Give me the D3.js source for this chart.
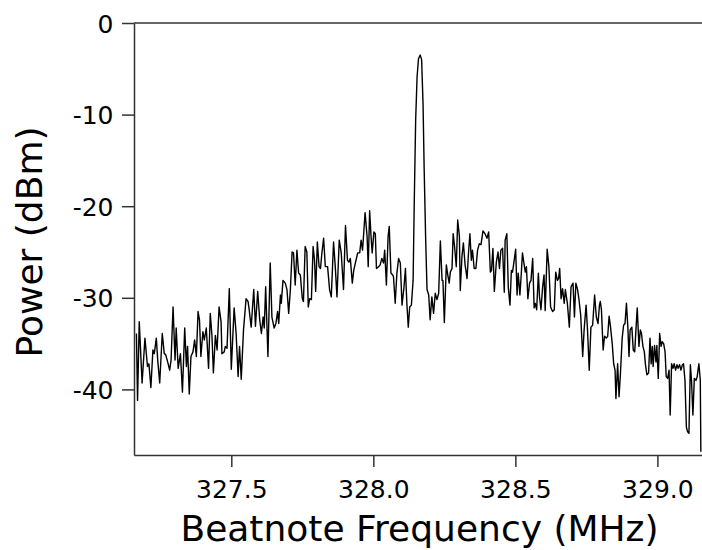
<!DOCTYPE html>
<html>
<head>
<meta charset="utf-8">
<title>Beatnote spectrum</title>
<style>
  body { margin: 0; background: #fff; }
  text { font-family: "DejaVu Sans", sans-serif; fill: #000; }
  .line { fill: none; stroke: #000; stroke-width: 1.4; stroke-linejoin: round; }
  .axis path, .axis line { stroke: #333; stroke-width: 1.5; }
</style>
<script src="https://d3js.org/d3.v7.min.js"></script>
</head>
<body>
<div id="chart"></div>
<script>
// beatnote frequency (MHz)
var freq = [
  327.166,327.170,327.176,327.186,327.196,327.205,327.210,327.217,327.224,327.229,
  327.236,327.241,327.248,327.257,327.264,327.269,327.276,327.283,327.288,327.295,
  327.302,327.306,327.313,327.321,327.328,327.336,327.342,327.346,327.352,327.358,
  327.365,327.371,327.377,327.383,327.388,327.393,327.400,327.405,327.412,327.420,
  327.426,327.432,327.437,327.444,327.450,327.457,327.464,327.467,327.475,327.479,
  327.485,327.493,327.500,327.510,327.517,327.524,327.529,327.535,327.543,327.552,
  327.559,327.563,327.570,327.579,327.585,327.593,327.600,327.606,327.612,327.616,
  327.621,327.629,327.637,327.643,327.651,327.657,327.663,327.667,327.673,327.676,
  327.682,327.690,327.696,327.702,327.708,327.714,327.719,327.725,327.731,327.737,
  327.743,327.750,327.754,327.760,327.766,327.771,327.776,327.782,327.788,327.793,
  327.797,327.803,327.809,327.814,327.819,327.825,327.831,327.839,327.846,327.852,
  327.860,327.866,327.872,327.880,327.887,327.895,327.902,327.909,327.914,327.919,
  327.926,327.931,327.939,327.945,327.952,327.957,327.962,327.966,327.971,327.978,
  327.982,327.987,327.992,327.996,328.002,328.007,328.011,328.019,328.024,328.030,
  328.036,328.040,328.046,328.052,328.056,328.062,328.068,328.071,328.077,328.083,
  328.089,328.095,328.101,328.108,328.113,328.118,328.123,328.128,328.134,328.140,
  328.144,328.149,328.154,328.159,328.165,328.170,328.175,328.179,328.184,328.189,
  328.195,328.200,328.206,328.212,328.218,328.224,328.230,328.236,328.242,328.245,
  328.250,328.257,328.261,328.267,328.271,328.277,328.281,328.286,328.292,328.297,
  328.303,328.306,328.312,328.317,328.323,328.330,328.335,328.340,328.345,328.349,
  328.355,328.361,328.367,328.373,328.379,328.386,328.393,328.400,328.406,328.412,
  328.416,328.421,328.426,328.433,328.439,328.444,328.449,328.455,328.461,328.464,
  328.470,328.475,328.481,328.486,328.490,328.495,328.501,328.506,328.510,328.516,
  328.521,328.525,328.530,328.535,328.539,328.544,328.550,328.555,328.561,328.566,
  328.570,328.575,328.581,328.585,328.590,328.596,328.601,328.605,328.612,328.618,
  328.624,328.631,328.637,328.642,328.648,328.652,328.656,328.661,328.666,328.672,
  328.676,328.683,328.690,328.696,328.703,328.708,328.713,328.719,328.724,328.730,
  328.737,328.742,328.749,328.754,328.760,328.766,328.772,328.779,328.785,328.791,
  328.796,328.799,328.803,328.809,328.814,328.820,328.825,328.830,328.835,328.841,
  328.846,328.851,328.854,328.860,328.865,328.870,328.876,328.881,328.886,328.891,
  328.896,328.900,328.904,328.910,328.915,328.920,328.925,328.929,328.935,328.940,
  328.944,328.949,328.954,328.958,328.963,328.969,328.974,328.978,328.982,328.985,
  328.990,328.995,328.998,329.003,329.008,329.013,329.017,329.022,329.027,329.031,
  329.036,329.041,329.045,329.050,329.055,329.059,329.064,329.069,329.073,329.078,
  329.083,329.088,329.092,329.097,329.102,329.106,329.111,329.116,329.120,329.125,
  329.130,329.136,329.140,329.146,329.151,329.153
];

// power (dBm)
var power = [
  -33.9,-41.2,-32.6,-39.3,-34.4,-37.5,-37.2,-39.8,-35.7,-36.1,
  -34.4,-36.8,-39.3,-33.9,-36.1,-36.2,-37.0,-37.9,-36.8,-31.0,
  -36.8,-33.3,-37.7,-36.1,-40.3,-33.3,-37.5,-35.3,-40.5,-36.4,
  -35.9,-34.6,-36.4,-31.5,-32.4,-36.4,-33.7,-34.6,-33.3,-37.7,
  -31.7,-34.2,-38.2,-34.1,-35.7,-31.0,-32.6,-36.1,-35.9,-35.3,
  -35.5,-29.0,-37.8,-31.1,-33.9,-38.6,-35.3,-38.9,-33.5,-30.1,
  -30.4,-31.3,-33.2,-29.1,-33.1,-29.3,-32.4,-33.9,-32.1,-33.3,
  -28.8,-36.4,-26.2,-32.1,-33.3,-32.8,-31.5,-32.8,-29.7,-30.6,
  -28.1,-28.4,-29.1,-31.7,-29.1,-25.0,-25.1,-28.6,-24.8,-27.3,
  -27.5,-30.1,-30.4,-24.4,-25.0,-31.0,-30.1,-30.2,-24.4,-25.9,
  -29.3,-23.9,-26.6,-26.8,-25.1,-23.5,-26.6,-26.6,-29.1,-29.9,
  -23.9,-26.6,-29.9,-23.7,-25.1,-29.1,-22.1,-25.9,-26.1,-25.7,
  -28.4,-27.0,-25.9,-25.1,-25.1,-23.7,-24.8,-23.0,-20.7,-23.3,
  -26.6,-20.5,-23.3,-25.1,-22.8,-23.0,-26.8,-26.6,-26.4,-25.7,
  -26.2,-24.8,-28.6,-23.3,-22.2,-27.3,-27.5,-27.7,-30.6,-27.3,
  -25.7,-26.2,-30.8,-28.8,-26.8,-30.6,-33.2,-31.0,-30.8,-28.1,
  -19.7,-10.6,-5.9,-3.9,-3.5,-4.0,-8.8,-16.0,-23.3,-29.1,
  -29.7,-32.4,-29.9,-31.7,-29.5,-30.2,-29.5,-23.8,-28.1,-28.1,
  -32.7,-26.4,-27.3,-28.4,-27.2,-26.8,-23.0,-24.4,-26.6,-21.5,
  -23.3,-29.2,-25.5,-24.0,-26.4,-27.9,-25.1,-23.0,-25.9,-24.8,
  -26.8,-26.8,-24.8,-24.1,-24.2,-22.7,-23.0,-23.5,-22.8,-27.2,
  -27.0,-24.6,-29.3,-26.1,-25.0,-26.8,-24.8,-24.6,-29.4,-23.7,
  -23.0,-28.8,-30.8,-27.0,-27.2,-26.1,-24.7,-29.7,-27.3,-29.7,
  -27.3,-25.1,-26.2,-27.2,-26.6,-30.1,-28.4,-28.1,-25.7,-31.1,
  -30.6,-31.3,-27.3,-29.9,-31.3,-28.8,-27.5,-31.4,-24.7,-26.6,
  -31.0,-31.5,-31.3,-27.2,-28.1,-27.9,-26.8,-30.1,-29.0,-30.6,
  -29.1,-30.6,-33.2,-28.8,-28.4,-32.1,-28.4,-29.1,-30.2,-31.9,
  -36.4,-33.5,-30.8,-33.5,-37.9,-33.2,-33.0,-29.7,-32.1,-32.8,
  -30.8,-30.4,-31.3,-35.7,-34.2,-34.4,-34.2,-32.0,-33.2,-35.0,
  -37.2,-37.9,-41.0,-37.2,-40.8,-38.2,-34.4,-33.0,-32.8,-30.6,
  -33.2,-36.4,-33.5,-33.2,-35.7,-35.9,-33.2,-31.1,-35.3,-33.5,
  -33.9,-35.3,-35.9,-37.3,-38.4,-38.2,-34.4,-37.2,-35.3,-37.5,
  -35.2,-37.0,-35.2,-38.8,-33.9,-35.3,-34.8,-35.0,-35.9,-38.6,
  -38.8,-37.9,-42.8,-37.2,-37.7,-37.2,-37.9,-37.3,-37.7,-37.3,
  -37.9,-37.3,-37.2,-39.0,-44.1,-44.6,-44.8,-37.3,-39.0,-42.8,
  -38.8,-39.0,-38.6,-37.2,-39.0,-46.8
];

var xTicks = [327.5, 328.0, 328.5, 329.0];
var yTicks = [0, -10, -20, -30, -40];

var W = 702, H = 550;
var plotL = 134, plotT = 23, plotR = 702, plotB = 455;

var data = freq.map(function(f, i) { return {f: f, p: power[i]}; });

var x = d3.scaleLinear().domain([327.1575, 329.157]).range([plotL, plotR]);
var y = d3.scaleLinear().domain([-47.16, 0]).range([plotB, plotT]);

var svg = d3.select("#chart").append("svg")
  .attr("width", W)
  .attr("height", H);

// trace
svg.append("path")
  .datum(data)
  .attr("class", "line")
  .attr("d", d3.line().x(d => x(d.f)).y(d => y(d.p)));

// top frame line
svg.append("line")
  .attr("x1", plotL).attr("x2", plotR)
  .attr("y1", plotT).attr("y2", plotT)
  .attr("stroke", "#333").attr("stroke-width", 1.5);

// axes
var xAxis = svg.append("g")
  .attr("class", "x axis")
  .attr("transform", "translate(0," + plotB + ")")
  .call(d3.axisBottom(x).tickValues(xTicks).tickFormat(d3.format(".1f"))
    .tickSize(12).tickSizeOuter(0));
xAxis.selectAll("text")
  .attr("y", 43).attr("dy", 0)
  .style("font-size", "25px");

var yAxis = svg.append("g")
  .attr("class", "y axis")
  .attr("transform", "translate(" + plotL + ",0)")
  .call(d3.axisLeft(y).tickValues(yTicks).tickFormat(d => String(d))
    .tickSize(12).tickSizeOuter(0).tickPadding(8.5));
yAxis.selectAll("text")
  .attr("dy", "0.36em")
  .style("font-size", "25px");

svg.selectAll(".axis text").attr("fill", "#000");

// titles
svg.append("text")
  .attr("x", 419.5)
  .attr("y", 541)
  .attr("text-anchor", "middle")
  .style("font-size", "36px")
  .text("Beatnote Frequency (MHz)");

svg.append("text")
  .attr("transform", "translate(42,242) rotate(-90)")
  .attr("text-anchor", "middle")
  .style("font-size", "36px")
  .text("Power (dBm)");
</script>
</body>
</html>
